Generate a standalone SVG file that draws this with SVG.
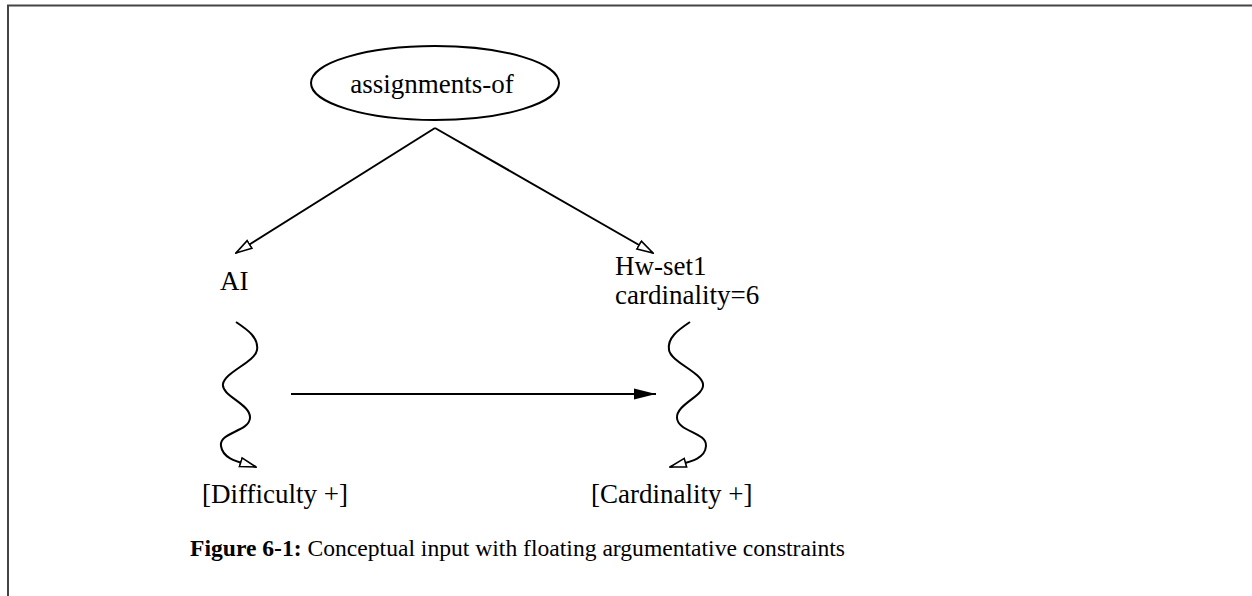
<svg xmlns="http://www.w3.org/2000/svg" width="1252" height="596" viewBox="0 0 1252 596">
  <style>
    .frame { fill: none; stroke: #444; stroke-width: 2; }
    .edge { fill: none; stroke: #000; stroke-width: 2; }
    .lbl { font-family: "Liberation Serif", "Times New Roman", serif; font-size: 27px; fill: #000; }
    .cap { font-family: "Liberation Serif", "Times New Roman", serif; font-size: 23.6px; fill: #000; }
  </style>
  <defs>
    <!-- hollow arrowhead -->
    <marker id="open" markerUnits="userSpaceOnUse" viewBox="0 0 18 12" refX="17" refY="6" markerWidth="18" markerHeight="12" orient="auto">
      <path d="M1,1.5 L17,6 L1,10.5 Z" fill="#fff" stroke="#000" stroke-width="1.6"/>
    </marker>
    <!-- filled arrowhead -->
    <marker id="solid" markerUnits="userSpaceOnUse" viewBox="0 0 22 12" refX="22" refY="6" markerWidth="22" markerHeight="12" orient="auto">
      <path d="M0,0.5 L22,6 L0,11.5 Z" fill="#000"/>
    </marker>
  </defs>

  <!-- page frame (top and left rules) -->
  <path class="frame" d="M8,596 L8,5.5 L1252,5.5"/>

  <g id="node-assignments-of">
    <ellipse cx="435" cy="83" rx="124" ry="37" fill="#fff" stroke="#000" stroke-width="2"/>
    <text class="lbl" x="432" y="93" text-anchor="middle">assignments-of</text>
  </g>

  <g id="node-ai">
    <text class="lbl" x="220" y="290">AI</text>
  </g>

  <g id="node-hw-set1">
    <text class="lbl" x="615" y="275">Hw-set1</text>
    <text class="lbl" x="615" y="304">cardinality=6</text>
  </g>

  <g id="node-difficulty">
    <text class="lbl" x="202" y="503">[Difficulty +]</text>
  </g>

  <g id="node-cardinality">
    <text class="lbl" x="591" y="503">[Cardinality +]</text>
  </g>

  <g id="connectors">
    <path class="edge" d="M435,128 L236,253" marker-end="url(#open)"/>
    <path class="edge" d="M435,128 L653,253" marker-end="url(#open)"/>
    <path class="edge" d="M236,322 C248,330 259,338 257,350 S225,372 223,384 S251,404 250,418 S219,432 221,446 S240,462 256,467" marker-end="url(#open)"/>
    <path class="edge" d="M690,322 C678,330 667,338 669,350 S701,372 703,384 S676,404 677,418 S707,432 706,446 S688,462 670,467" marker-end="url(#open)"/>
    <path class="edge" d="M291,394 L656,394" marker-end="url(#solid)"/>
  </g>

  <text class="cap" x="190" y="556"><tspan font-weight="bold">Figure 6-1:</tspan>  Conceptual input with floating argumentative constraints</text>
</svg>
